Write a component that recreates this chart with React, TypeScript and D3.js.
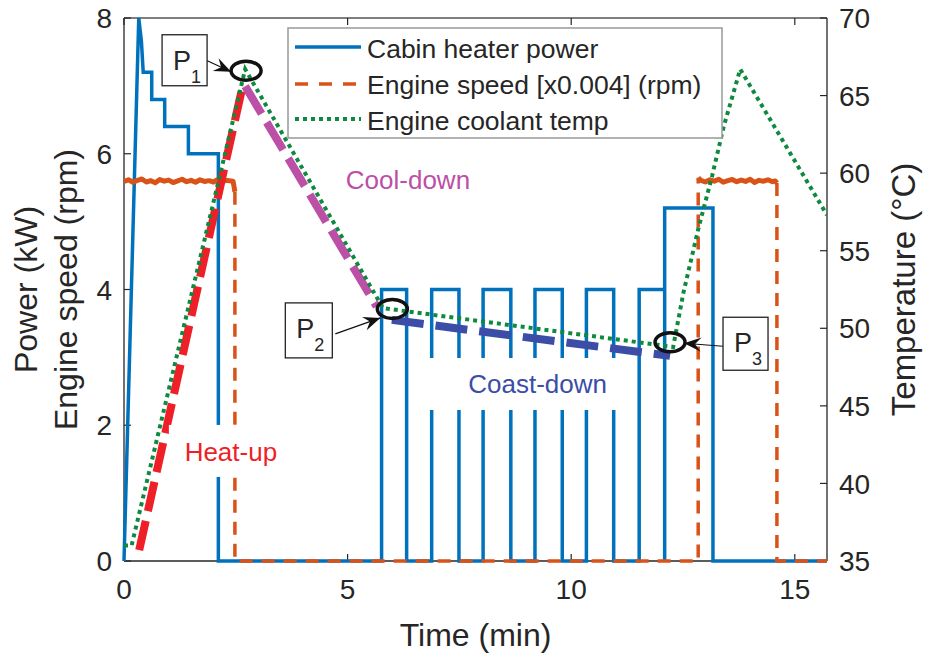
import React from 'react';
import * as d3 from 'd3';

// ---------- data ----------
const xTicks = [0, 5, 10, 15];
const yLeftTicks = [0, 2, 4, 6, 8];
const yRightTicks = [35, 40, 45, 50, 55, 60, 65, 70];

// Cabin heater power (kW) vs time (min)
const heaterTime = [0, 0.33, 0.39, 0.43, 0.62, 0.62, 0.91, 0.91, 1.44, 1.44, 2.11, 2.11, 5.76, 5.76, 6.32, 6.32, 6.88, 6.88, 7.49, 7.49, 8.03, 8.03, 8.65, 8.65, 9.19, 9.19, 9.8, 9.8, 10.34, 10.34, 10.95, 10.95, 11.52, 11.52, 12.09, 12.09, 12.09, 13.17, 13.17, 15.72];
const heaterPower = [0, 8.0, 7.65, 7.2, 7.2, 6.8, 6.8, 6.4, 6.4, 6.0, 6.0, 0, 0, 4, 4, 0, 0, 4, 4, 0, 0, 4, 4, 0, 0, 4, 4, 0, 0, 4, 4, 0, 0, 4, 4, 0, 5.2, 5.2, 0, 0];

// Engine speed (rpm), plotted x0.004
const engineTime = [0, 0.1, 0.2, 0.3, 0.4, 0.5, 0.6, 0.7, 0.8, 0.9, 1.0, 1.1, 1.2, 1.3, 1.4, 1.5, 1.6, 1.7, 1.8, 1.9, 2.0, 2.1, 2.2, 2.3, 2.4, 2.44, 2.48, 2.48,
  12.84, 12.84, 12.9, 13.0, 13.1, 13.2, 13.3, 13.4, 13.5, 13.6, 13.7, 13.8, 13.9, 14.0, 14.1, 14.2, 14.3, 14.4, 14.5, 14.56, 14.6, 14.6, 15.72];
const engineRpm = [1398, 1404, 1395, 1402, 1407, 1396, 1401, 1393, 1405, 1399, 1403, 1394, 1400, 1406, 1397, 1402, 1395, 1404, 1398, 1401, 1396, 1405, 1399, 1402, 1400, 1398, 1360, 0,
  0, 1412, 1402, 1396, 1404, 1399, 1406, 1395, 1401, 1405, 1397, 1403, 1398, 1406, 1394, 1402, 1399, 1404, 1397, 1400, 1392, 0, 0];
const engineScale = 0.004;

// Engine coolant temperature (°C)
const coolantTime = [0, 0.17, 2.71, 5.79, 12.28, 12.51, 12.85, 13.15, 13.41, 13.78, 15.72];
const coolantTemp = [36.0, 36.0, 66.7, 51.3, 48.8, 52.3, 56.5, 59.8, 63.0, 66.7, 57.3];

// Phase trend lines (time, temperature)
const heatUpTime = [0.34, 2.66];
const heatUpTemp = [35.7, 65.7];
const coolDownTime = [2.71, 5.65];
const coolDownTemp = [65.6, 51.4];
const coastDownTime = [5.99, 12.21];
const coastDownTemp = [50.54, 48.22];

// Marked points P1..P3
const markerNames = ['1', '2', '3'];
const markerTime = [2.73, 6.0, 12.21];
const markerTemp = [66.6, 51.25, 49.1];

const phaseNames = ['Heat-up', 'Cool-down', 'Coast-down'];
const legendLabels = ['Cabin heater power', 'Engine speed [x0.004] (rpm)', 'Engine coolant temp'];

// ---------- layout / style ----------
const W = 928, H = 660;
const L = 124, R = 827, T = 18, B = 561;
const FONT = '"Liberation Sans", Arial, Helvetica, sans-serif';
const INK = '#262626';
const C_BLUE = '#0072BD';
const C_ORANGE = '#D95319';
const C_GREEN = '#0E8A3E';
const C_RED = '#EE1F26';
const C_MAG = '#BC4FA6';
const C_NAVY = '#3B4DA6';

const x = d3.scaleLinear().domain([0, 15.72]).range([L, R]);
const yL = d3.scaleLinear().domain([0, 8]).range([B, T]);
const yR = d3.scaleLinear().domain([35, 70]).range([B, T]);

type P = [number, number];
const lineGen = d3.line<P>().x(d => d[0]).y(d => d[1]);

function pts(t: number[], v: number[], ys: d3.ScaleLinear<number, number>, k = 1): P[] {
  return t.map((ti, i) => [x(ti), ys(v[i] * k)] as P);
}

function arrowHead(x1: number, y1: number, x2: number, y2: number) {
  const a = Math.atan2(y2 - y1, x2 - x1);
  const len = 17, hw = 7, notch = 11;
  const bx = x2 - len * Math.cos(a), by = y2 - len * Math.sin(a);
  const nx = x2 - notch * Math.cos(a), ny = y2 - notch * Math.sin(a);
  const px = -Math.sin(a), py = Math.cos(a);
  return `M${x2},${y2}L${bx + px * hw},${by + py * hw}L${nx},${ny}L${bx - px * hw},${by - py * hw}Z`;
}

// box + arrow geometry relative to the marker centre (pixels)
const callouts = [
  { box: [-84, -36, 45, 51], from: [-41, -11], to: [-15, 1] },
  { box: [-107, -6, 47, 55], from: [-57, 25], to: [-12, 9] },
  { box: [53, -25, 45, 53], from: [53, 4], to: [14, 1] },
];

// phase label placement (data units) and white background box (pixel offsets from text anchor)
const phaseStyle = [
  { t: 2.39, temp: 41.45, color: C_RED, bg: [-62, -36, 124, 52] },
  { t: 6.35, temp: 59.0, color: C_MAG, bg: [-75, -34, 150, 50] },
  { t: 9.25, temp: 45.83, color: C_NAVY, bg: [-114, -35, 206, 52] },
];

export default function App() {
  const heater = pts(heaterTime, heaterPower, yL);
  const engine = pts(engineTime, engineRpm, yL, engineScale);
  const coolant = pts(coolantTime, coolantTemp, yR);

  // split engine speed: plateaus solid (dense noisy data), the rest dashed
  const solidSegs: P[][] = [];
  const dashSegs: P[][] = [];
  for (let i = 0; i < engine.length - 1; i++) {
    const on = engineRpm[i] > 1000 && engineRpm[i + 1] > 1000;
    const target = on ? solidSegs : dashSegs;
    const last = target[target.length - 1];
    if (last && last[last.length - 1] === engine[i]) last.push(engine[i + 1]);
    else target.push([engine[i], engine[i + 1]]);
  }

  const markers = markerTime.map((t, i) => [x(t), yR(markerTemp[i])] as P);

  return (
    <svg width={W} height={H} style={{ position: 'absolute', left: 0, top: 0, background: '#fff' }} fontFamily={FONT}>
      <defs>
        <clipPath id="plot"><rect x={L - 3} y={T - 3} width={R - L + 3} height={B - T + 6} /></clipPath>
      </defs>
      <rect x={0} y={0} width={W} height={H} fill="#fff" />

      {/* axes box (drawn beneath the data) */}
      <line x1={L} y1={T} x2={R} y2={T} stroke="#555" strokeWidth={1.3} />
      <line x1={L} y1={T} x2={L} y2={B} stroke={INK} strokeWidth={1.3} />
      <line x1={L} y1={B} x2={R} y2={B} stroke={INK} strokeWidth={1.3} />
      <line x1={R} y1={T} x2={R} y2={B} stroke={INK} strokeWidth={1.3} />

      {xTicks.map(t => (
        <g key={'xt' + t}>
          <line x1={x(t)} x2={x(t)} y1={B} y2={B - 7} stroke={INK} strokeWidth={1.2} />
          <line x1={x(t)} x2={x(t)} y1={T} y2={T + 7} stroke={INK} strokeWidth={1.2} />
          <text x={x(t)} y={B + 38} textAnchor="middle" fontSize={28} fill={INK}>{t}</text>
        </g>
      ))}
      {yLeftTicks.map(v => (
        <g key={'yl' + v}>
          <line x1={L} x2={L + 7} y1={yL(v)} y2={yL(v)} stroke={INK} strokeWidth={1.2} />
          <text x={L - 12} y={yL(v)} dy="0.36em" textAnchor="end" fontSize={28} fill={INK}>{v}</text>
        </g>
      ))}
      {yRightTicks.map(v => (
        <g key={'yr' + v}>
          <line x1={R} x2={R - 7} y1={yR(v)} y2={yR(v)} stroke={INK} strokeWidth={1.2} />
          <text x={R + 12} y={yR(v)} dy="0.36em" textAnchor="start" fontSize={28} fill={INK}>{v}</text>
        </g>
      ))}

      <g clipPath="url(#plot)">
        <path d={lineGen(heater) || ''} fill="none" stroke={C_BLUE} strokeWidth={3.5} strokeLinejoin="miter" />
        {dashSegs.map((s, i) => (
          <path key={'d' + i} d={lineGen(s) || ''} fill="none" stroke={C_ORANGE} strokeWidth={3.5} strokeDasharray="13 9" />
        ))}
        {solidSegs.map((s, i) => (
          <path key={'s' + i} d={lineGen(s) || ''} fill="none" stroke={C_ORANGE} strokeWidth={5} strokeLinejoin="round" />
        ))}
        <path d={lineGen(pts(heatUpTime, heatUpTemp, yR)) || ''} fill="none" stroke={C_RED} strokeWidth={8} strokeDasharray="30 10" />
        <path d={lineGen(pts(coolDownTime, coolDownTemp, yR)) || ''} fill="none" stroke={C_MAG} strokeWidth={8} strokeDasharray="32 10" />
        <path d={lineGen(pts(coastDownTime, coastDownTemp, yR)) || ''} fill="none" stroke={C_NAVY} strokeWidth={8} strokeDasharray="32 12" />
        <path d={lineGen(coolant) || ''} fill="none" stroke={C_GREEN} strokeWidth={4} strokeDasharray="4 4" />
      </g>

      {/* axis labels */}
      <text x={(L + R) / 2} y={646} textAnchor="middle" fontSize={32} fill={INK}>Time (min)</text>
      <text transform={`translate(37,${(T + B) / 2}) rotate(-90)`} textAnchor="middle" fontSize={32} fill={INK}>Power (kW)</text>
      <text transform={`translate(77,${(T + B) / 2}) rotate(-90)`} textAnchor="middle" fontSize={32} fill={INK}>Engine speed (rpm)</text>
      <text transform={`translate(915,${(T + B) / 2}) rotate(-90)`} textAnchor="middle" fontSize={33} fill={INK}>Temperature (°C)</text>

      {/* phase labels with white background */}
      {phaseNames.map((name, i) => {
        const s = phaseStyle[i];
        const tx = x(s.t), ty = yR(s.temp);
        return (
          <g key={name}>
            <rect x={tx + s.bg[0]} y={ty + s.bg[1]} width={s.bg[2]} height={s.bg[3]} fill="#fff" />
            <text x={tx} y={ty} textAnchor="middle" fontSize={26} fill={s.color}>{name}</text>
          </g>
        );
      })}

      {/* markers & callouts */}
      {markers.map(([mx, my], i) => {
        const c = callouts[i];
        const [bx, by, bw, bh] = c.box;
        const x1 = mx + c.from[0], y1 = my + c.from[1], x2 = mx + c.to[0], y2 = my + c.to[1];
        return (
          <g key={'m' + i}>
            <ellipse cx={mx} cy={my} rx={15} ry={9.5} fill="none" stroke="#111" strokeWidth={3.5} />
            <line x1={x1} y1={y1} x2={x2} y2={y2} stroke="#111" strokeWidth={1.2} />
            <path d={arrowHead(x1, y1, x2, y2)} fill="#111" />
            <rect x={mx + bx} y={my + by} width={bw} height={bh} fill="#fff" stroke="#222" strokeWidth={1.3} />
            <text x={mx + bx + 11} y={my + by + 35} fontSize={27} fill={INK}>P</text>
            <text x={mx + bx + 29} y={my + by + 48} fontSize={18} fill={INK}>{markerNames[i]}</text>
          </g>
        );
      })}

      {/* legend */}
      <g>
        <rect x={288} y={28} width={434} height={110} fill="#fff" stroke="#999" strokeWidth={1.5} />
        <line x1={295} x2={361} y1={47} y2={47} stroke={C_BLUE} strokeWidth={3.5} />
        <line x1={295} x2={361} y1={84} y2={84} stroke={C_ORANGE} strokeWidth={3.5} strokeDasharray="13 11" />
        <line x1={295} x2={361} y1={119} y2={119} stroke={C_GREEN} strokeWidth={4} strokeDasharray="4 4" />
        {legendLabels.map((lab, i) => (
          <text key={lab} x={367} y={58 + i * 36} fontSize={26.5} fill={INK}>{lab}</text>
        ))}
      </g>
    </svg>
  );
}
